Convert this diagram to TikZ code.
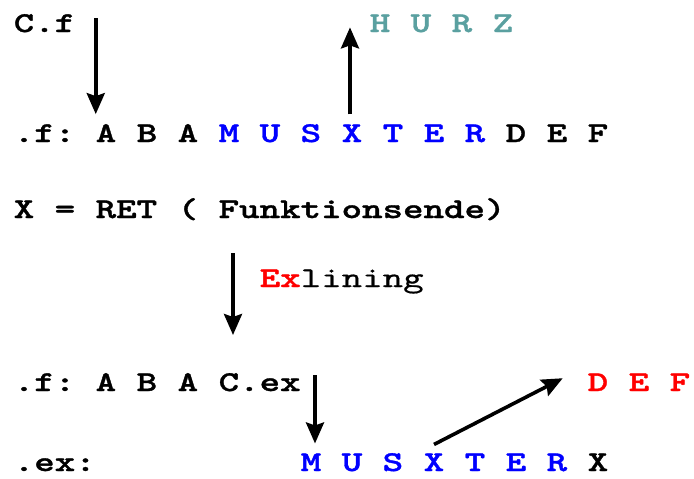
\documentclass[tikz,border=0pt]{standalone}
\usepackage{fontspec}
\usetikzlibrary{arrows.meta}
\newfontfamily\cour{lmmono10-regular.otf}[FakeStretch=1.36, FakeBold=0.6, BoldFont=lmmonolt10-bold.otf, BoldFeatures={FakeStretch=1.36, FakeBold=1.2}]
\definecolor{hurzcol}{RGB}{90,160,160}
\definecolor{pblue}{RGB}{0,0,255}
\definecolor{pred}{RGB}{255,0,0}
\tikzset{
  txt/.style={anchor=base west, inner sep=0pt, outer sep=0pt,
    font=\cour\bfseries\fontsize{28.7}{32}\selectfont\frenchspacing},
  arr/.style={line width=3.6pt, -{Stealth[length=21pt,width=18pt,inset=3pt]}}
}
\begin{document}
\begin{tikzpicture}[x=1pt,y=-1pt]
\useasboundingbox[fill=white] (0,0) rectangle (694,479);
\def\cx#1{13.75+20.5*#1}
% row 1
\node[txt] (cf) at ({\cx{0}},32) {C.f};
\node[txt, text=hurzcol] (hurz) at (369.75,32) {H U R Z};
% row 2
\node[txt] (n2a) at ({\cx{0}},142) {.f:};
\node[txt] (n2A) at ({\cx{4}},142) {A};
\node[txt] (n2b) at ({\cx{6}},142) {B A};
\node[txt, text=pblue] (n2c) at ({\cx{10}},142) {M U S};
\node[txt, text=pblue] (n2X) at ({\cx{16}},142) {X};
\node[txt, text=pblue] (n2d) at ({\cx{18}},142) {T E R};
\node[txt] (n2e) at ({\cx{24}},142) {D E F};
% row 3
\node[txt] (n3) at ({\cx{0}},218) {X = RET ( Funktionsende)};
% row 4
\node[txt] (n4) at ({\cx{12}},287) {{\color{pred}Ex}\mdseries lining};
% row 5
\node[txt] (n5a) at ({\cx{0}},391) {.f: A B A C.ex};
\node[txt, text=pred] (n5def) at ({\cx{28}},391) {D E F};
% row 6
\node[txt] (n6a) at ({\cx{0}},471) {.ex:};
\node[txt, text=pblue] (n6M) at ({\cx{14}},471) {M};
\node[txt, text=pblue] (n6b) at ({\cx{16}},471) {U S};
\node[txt, text=pblue] (n6X) at ({\cx{20}},471) {X};
\node[txt, text=pblue] (n6c) at ({\cx{22}},471) {T E R};
\node[txt] (n6d) at ({\cx{28}},471) {X};
% free ends of the Exlining arrow
\coordinate (e1) at (233,253);
\coordinate (e2) at (233,335);
% arrows
\draw[arr] ([yshift=-4pt]n2A.west |- cf.north) -- ([yshift=10pt]n2A.north west);
\draw[arr] ([xshift=-2pt,yshift=10pt]n2X.north) -- ([xshift=-2pt,yshift=-4pt]n2X.north |- hurz.center);
\draw[arr] (e1) -- (e2);
\draw[arr] ([xshift=4pt,yshift=-2pt]n6M.north |- n5a.north) -- ([xshift=4pt,yshift=10pt]n6M.north);
\draw[arr] ([yshift=9pt]n6X.north) -- ([xshift=-25pt,yshift=4pt]n5def.west);
\end{tikzpicture}
\end{document}
